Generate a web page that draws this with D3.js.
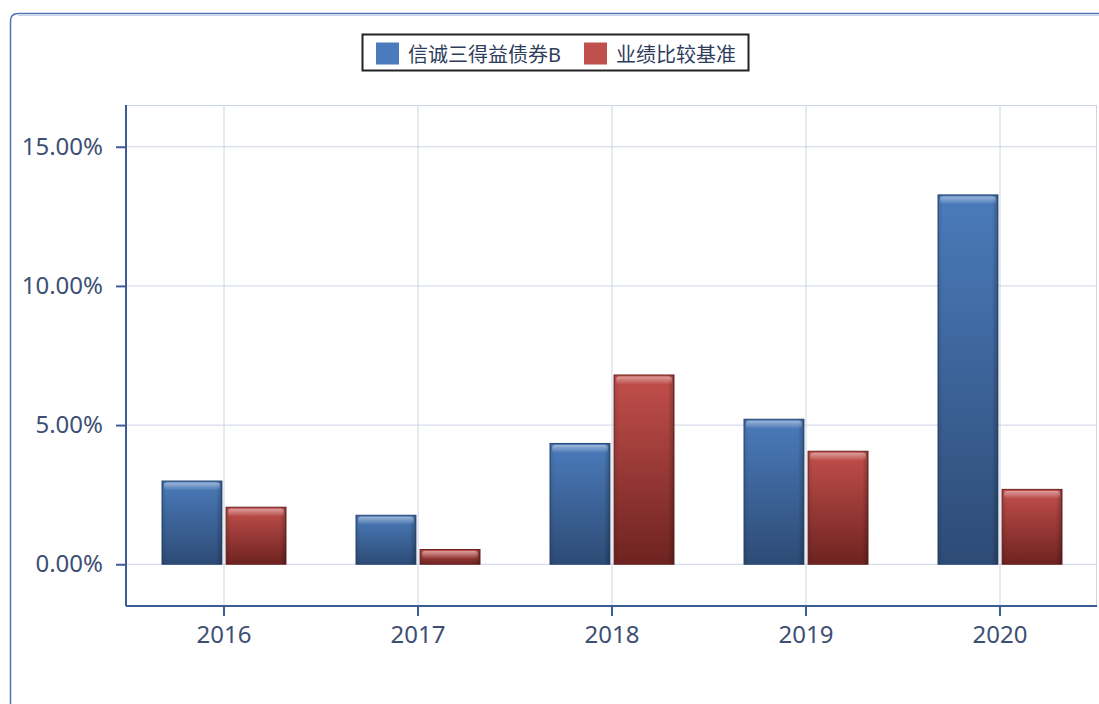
<!DOCTYPE html>
<html>
<head>
<meta charset="utf-8">
<script src="https://d3js.org/d3.v7.min.js"></script>
<style>
  body { margin: 0; background: #fff; }
  text { font-family: "Noto Sans", "Noto Sans CJK SC", sans-serif; }
</style>
</head>
<body>
<svg id="chart" width="1099" height="704"></svg>
<script>
// data
const years = ["2016", "2017", "2018", "2019", "2020"];
const seriesNames = ["信诚三得益债券B", "业绩比较基准"];
const fundValues = [2.99, 1.76, 4.34, 5.21, 13.27];
const benchValues = [2.05, 0.53, 6.80, 4.06, 2.69];
const yTicks = [0, 5, 10, 15];

const svg = d3.select("#chart");
const plotL = 126, plotR = 1097, plotT = 105, plotB = 606;

// outer frame (rounded, runs off the right and bottom)
svg.append("path")
  .attr("d", "M10.5,720 L10.5,21 Q10.5,13.5 18,13.5 L1120,13.5")
  .attr("fill", "none").attr("stroke", "#4f74b3").attr("stroke-width", 1.5);
svg.append("line").attr("x1", 18).attr("x2", 1099).attr("y1", 15.5).attr("y2", 15.5)
  .attr("stroke", "#c6d3ea").attr("stroke-width", 1);

const x = d3.scaleBand().domain(years).range([plotL + 1, plotR]);
const sub = d3.scaleBand().domain([0, 1]).range([x.bandwidth() / 2 - 62, x.bandwidth() / 2 + 62]).paddingInner(0.065);
const y = d3.scaleLinear().domain([-1.5, 16.5]).range([plotB, plotT]);

// gradients
const defs = svg.append("defs");
function grad(id, c1, c2) {
  const g = defs.append("linearGradient").attr("id", id).attr("x1", 0).attr("y1", 0).attr("x2", 0).attr("y2", 1);
  g.append("stop").attr("offset", "0%").attr("stop-color", c1);
  g.append("stop").attr("offset", "100%").attr("stop-color", c2);
  const h = defs.append("linearGradient").attr("id", id + "-side").attr("x1", 0).attr("y1", 0).attr("x2", 1).attr("y2", 0);
  h.append("stop").attr("offset", "0%").attr("stop-color", "#000").attr("stop-opacity", 0.12);
  h.append("stop").attr("offset", "8%").attr("stop-color", "#000").attr("stop-opacity", 0);
  h.append("stop").attr("offset", "90%").attr("stop-color", "#000").attr("stop-opacity", 0);
  h.append("stop").attr("offset", "100%").attr("stop-color", "#000").attr("stop-opacity", 0.25);
}
grad("gBlue", "#4b7bbb", "#2d4b75");
grad("gRed", "#c24f4b", "#6e2321");
const shine = defs.append("linearGradient").attr("id", "shine").attr("x1", 0).attr("y1", 0).attr("x2", 0).attr("y2", 1);
shine.append("stop").attr("offset", "0%").attr("stop-color", "#fff").attr("stop-opacity", 0.45);
shine.append("stop").attr("offset", "100%").attr("stop-color", "#fff").attr("stop-opacity", 0);

// grid
svg.append("g").selectAll("line").data(yTicks).join("line")
  .attr("x1", plotL).attr("x2", plotR).attr("y1", d => y(d)).attr("y2", d => y(d))
  .attr("stroke", "#ccd5e6").attr("stroke-width", 1);
svg.append("g").selectAll("line").data(years).join("line")
  .attr("x1", d => x(d) + x.bandwidth() / 2).attr("x2", d => x(d) + x.bandwidth() / 2)
  .attr("y1", plotT).attr("y2", plotB)
  .attr("stroke", "#ccd5e6").attr("stroke-width", 1);
svg.append("line").attr("x1", plotL).attr("x2", plotR).attr("y1", plotT + 0.5).attr("y2", plotT + 0.5)
  .attr("stroke", "#ccd5e6");
svg.append("line").attr("x1", plotR - 0.5).attr("x2", plotR - 0.5).attr("y1", plotT).attr("y2", plotB)
  .attr("stroke", "#ccd5e6");

// bars
const rows = years.map((yr, i) => ({ yr, vals: [fundValues[i], benchValues[i]] }));
const fills = ["gBlue", "gRed"];
const strokes = ["#2a4670", "#6a2523"];
const groups = svg.append("g").selectAll("g").data(rows).join("g")
  .attr("transform", d => `translate(${x(d.yr)},0)`);
const bars = groups.selectAll("g").data(d => d.vals.map((v, k) => ({ v, k }))).join("g");
bars.append("rect")
  .attr("x", d => sub(d.k)).attr("width", sub.bandwidth())
  .attr("y", d => y(d.v)).attr("height", d => y(0) - y(d.v))
  .attr("fill", d => `url(#${fills[d.k]})`)
  .attr("stroke", d => strokes[d.k]).attr("stroke-width", 1);
bars.append("rect")
  .attr("x", d => sub(d.k)).attr("width", sub.bandwidth())
  .attr("y", d => y(d.v)).attr("height", d => y(0) - y(d.v))
  .attr("fill", d => `url(#${fills[d.k]}-side)`);
bars.append("rect")
  .attr("x", d => sub(d.k) + 2).attr("width", sub.bandwidth() - 4)
  .attr("y", d => y(d.v) + 1.5).attr("height", 8)
  .attr("rx", 3)
  .attr("fill", "url(#shine)");

// axes
const axisColor = "#3c5c96";
const yAxis = svg.append("g").attr("transform", `translate(${plotL},0)`)
  .call(d3.axisLeft(y).tickValues(yTicks).tickSize(8).tickFormat(d => d.toFixed(2) + "%"));
const xAxis = svg.append("g").attr("transform", `translate(0,${plotB})`)
  .call(d3.axisBottom(x).tickSize(8).tickSizeOuter(0));
[yAxis, xAxis].forEach(a => {
  a.select(".domain").attr("stroke", axisColor).attr("stroke-width", 2);
  a.selectAll(".tick line").attr("stroke", axisColor).attr("stroke-width", 2);
  a.selectAll(".tick text").attr("fill", "#3d4f73").attr("font-size", 24);
});
yAxis.select(".domain").attr("d", `M0,${plotT}V${plotB}`);
xAxis.select(".domain").attr("d", `M${plotL},0H${plotR}`);
yAxis.selectAll(".tick line").attr("x2", -10).attr("x1", 0);
yAxis.selectAll(".tick text").attr("x", -23);
xAxis.selectAll(".tick line").attr("y2", 10);
xAxis.selectAll(".tick text").attr("y", 37).attr("dy", 0);

// legend
const legend = svg.append("g");
legend.append("rect").attr("x", 362.5).attr("y", 34.5).attr("width", 386).attr("height", 36)
  .attr("fill", "#fff").attr("stroke", "#222").attr("stroke-width", 2);
const legendX = [376, 584];
const legendColors = ["#4a7bbd", "#c0504d"];
seriesNames.forEach((name, i) => {
  legend.append("rect").attr("x", legendX[i]).attr("y", 42.5).attr("width", 23).attr("height", 22)
    .attr("fill", legendColors[i]);
  legend.append("text").attr("x", legendX[i] + 32).attr("y", 62)
    .attr("font-size", 20).attr("fill", "#2f3d5c")
    .attr("font-family", "'Noto Sans CJK SC', sans-serif")
    .text(name);
});
</script>
</body>
</html>
